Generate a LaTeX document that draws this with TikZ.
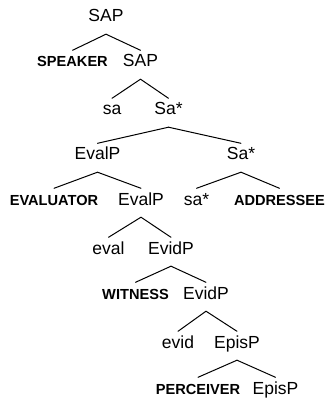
\documentclass[tikz,border=0pt]{standalone}
\usepackage{fontspec}
\setmainfont{Liberation Sans}
\begin{document}
\begin{tikzpicture}[x=1pt,y=-1pt,
  lbl/.style={anchor=base,inner sep=0pt,text height=16.5pt,text depth=12pt,
    font=\fontsize{17.5}{20}\selectfont},
  role/.style={lbl,font=\fontsize{14.6}{17}\selectfont\bfseries},
  branch/.style={line width=1pt,line cap=round}]
\useasboundingbox (0,0) rectangle (326,398);
% tree labels, placed by their baselines
\node[lbl]  (sap1)  at (106,22)    {SAP};
\node[role] (spk)   at (72.5,67)   {SPEAKER};
\node[lbl]  (sap2)  at (140.5,67)  {SAP};
\node[lbl]  (sa)    at (112,115)   {sa};
\node[lbl]  (sas1)  at (168.5,115) {Sa*};
\node[lbl]  (ev1)   at (97.5,160)  {EvalP};
\node[lbl]  (sas2)  at (241,160)   {Sa*};
\node[role] (evr)   at (54,205)    {EVALUATOR};
\node[lbl]  (ev2)   at (141,205)   {EvalP};
\node[lbl]  (sast)  at (196.5,205) {sa*};
\node[role] (addr)  at (279.5,205) {ADDRESSEE};
\node[lbl]  (eval)  at (108.5,254) {eval};
\node[lbl]  (evd1)  at (171,254)   {EvidP};
\node[role] (wit)   at (135.5,299) {WITNESS};
\node[lbl]  (evd2)  at (206,299)   {EvidP};
\node[lbl]  (evid)  at (178,348)   {evid};
\node[lbl]  (eps1)  at (237,348)   {EpisP};
\node[role] (perc)  at (198,394)   {PERCEIVER};
\node[lbl]  (eps2)  at (275.5,394) {EpisP};
% branches: parent bottom to child top
\foreach \p/\c in {sap1/spk,sap1/sap2,sap2/sa,sap2/sas1,sas1/ev1,sas1/sas2,
  ev1/evr,ev1/ev2,sas2/sast,sas2/addr,ev2/eval,ev2/evd1,evd1/wit,evd1/evd2,
  evd2/evid,evd2/eps1,eps1/perc,eps1/eps2}
  \draw[branch] (\p.south) -- (\c.north);
\end{tikzpicture}
\end{document}
